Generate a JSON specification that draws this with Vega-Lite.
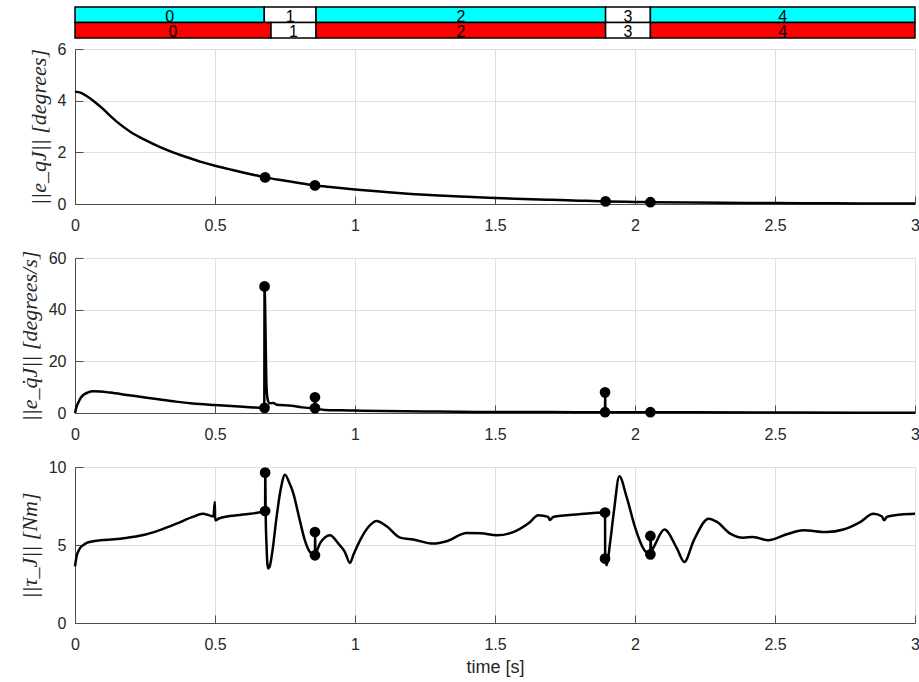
{
  "$schema": "https://vega.github.io/schema/vega-lite/v6.json",
  "padding": {"left": 18, "top": 6, "right": 2, "bottom": 2},
  "background": "white",
  "config": {
    "view": {"stroke": null},
    "axis": {"domainColor": "#4d4d4d", "domainWidth": 1, "tickColor": "#4d4d4d", "tickSize": -8, "tickWidth": 1, "gridColor": "#dfdfdf", "gridWidth": 1, "labelFont": "Liberation Sans", "labelFontSize": 16, "labelColor": "#262626", "titleColor": "#262626", "titleFontWeight": "normal", "labelFlush": false},
    "axisX": {"labelPadding": 21, "titleFont": "Liberation Sans", "titleFontSize": 18, "titlePadding": 6},
    "axisY": {"labelPadding": 17, "titleFont": "Liberation Serif", "titleFontStyle": "italic", "titleFontSize": 22, "titlePadding": 7}
  },
  "datasets": {
    "phases": [
      {"row": "top", "phase": "0", "active": true, "start": 0, "end": 0.676},
      {"row": "top", "phase": "1", "active": false, "start": 0.676, "end": 0.861},
      {"row": "top", "phase": "2", "active": true, "start": 0.861, "end": 1.895},
      {"row": "top", "phase": "3", "active": false, "start": 1.895, "end": 2.055},
      {"row": "top", "phase": "4", "active": true, "start": 2.055, "end": 3.0},
      {"row": "bottom", "phase": "0", "active": true, "start": 0, "end": 0.7},
      {"row": "bottom", "phase": "1", "active": false, "start": 0.7, "end": 0.861},
      {"row": "bottom", "phase": "2", "active": true, "start": 0.861, "end": 1.895},
      {"row": "bottom", "phase": "3", "active": false, "start": 1.895, "end": 2.055},
      {"row": "bottom", "phase": "4", "active": true, "start": 2.055, "end": 3.0}
    ],
    "q": [
      {"t": 0, "v": 4.35}, {"t": 0.02, "v": 4.31}, {"t": 0.04, "v": 4.19}, {"t": 0.065, "v": 4.0}, {"t": 0.1, "v": 3.68}, {"t": 0.125, "v": 3.42}, {"t": 0.15, "v": 3.18}, {"t": 0.2, "v": 2.78}, {"t": 0.25, "v": 2.48}, {"t": 0.3, "v": 2.22}, {"t": 0.35, "v": 2.0}, {"t": 0.4, "v": 1.81}, {"t": 0.45, "v": 1.63}, {"t": 0.5, "v": 1.48}, {"t": 0.55, "v": 1.35}, {"t": 0.6, "v": 1.22}, {"t": 0.65, "v": 1.1}, {"t": 0.679, "v": 1.03}, {"t": 0.75, "v": 0.9}, {"t": 0.8, "v": 0.81}, {"t": 0.857, "v": 0.72}, {"t": 0.9, "v": 0.67}, {"t": 1.0, "v": 0.56}, {"t": 1.1, "v": 0.47}, {"t": 1.2, "v": 0.39}, {"t": 1.3, "v": 0.33}, {"t": 1.4, "v": 0.28}, {"t": 1.5, "v": 0.23}, {"t": 1.6, "v": 0.19}, {"t": 1.7, "v": 0.16}, {"t": 1.8, "v": 0.13}, {"t": 1.895, "v": 0.1}, {"t": 2.0, "v": 0.08}, {"t": 2.055, "v": 0.07}, {"t": 2.2, "v": 0.055}, {"t": 2.4, "v": 0.04}, {"t": 2.6, "v": 0.03}, {"t": 2.8, "v": 0.02}, {"t": 3.0, "v": 0.015}
    ],
    "qEvents": [
      {"t": 0.679, "v": 1.03}, {"t": 0.857, "v": 0.72}, {"t": 1.895, "v": 0.1}, {"t": 2.055, "v": 0.07}
    ],
    "qd": [
      {"t": 0, "v": 0}, {"t": 0.005, "v": 2.2}, {"t": 0.012, "v": 4.1}, {"t": 0.02, "v": 5.8}, {"t": 0.03, "v": 7.0}, {"t": 0.045, "v": 7.9}, {"t": 0.065, "v": 8.4}, {"t": 0.09, "v": 8.3}, {"t": 0.125, "v": 7.9}, {"t": 0.185, "v": 7.0}, {"t": 0.25, "v": 6.0}, {"t": 0.304, "v": 5.2}, {"t": 0.36, "v": 4.4}, {"t": 0.42, "v": 3.7}, {"t": 0.5, "v": 3.1}, {"t": 0.6, "v": 2.45}, {"t": 0.676, "v": 2.0}, {"t": 0.677, "v": 49}, {"t": 0.68, "v": 35}, {"t": 0.682, "v": 20}, {"t": 0.684, "v": 10}, {"t": 0.687, "v": 6}, {"t": 0.69, "v": 4.5}, {"t": 0.696, "v": 3.75}, {"t": 0.708, "v": 3.9}, {"t": 0.72, "v": 3.2}, {"t": 0.774, "v": 2.8}, {"t": 0.81, "v": 2.2}, {"t": 0.845, "v": 1.9}, {"t": 0.857, "v": 1.9}, {"t": 0.8575, "v": 6.1}, {"t": 0.8585, "v": 1.9}, {"t": 0.893, "v": 1.2}, {"t": 0.95, "v": 1.05}, {"t": 1.0, "v": 0.95}, {"t": 1.1, "v": 0.8}, {"t": 1.25, "v": 0.6}, {"t": 1.37, "v": 0.45}, {"t": 1.5, "v": 0.4}, {"t": 1.7, "v": 0.35}, {"t": 1.893, "v": 0.3}, {"t": 1.8935, "v": 8.0}, {"t": 1.894, "v": 0.3}, {"t": 2.0, "v": 0.3}, {"t": 2.055, "v": 0.3}, {"t": 2.2, "v": 0.25}, {"t": 2.5, "v": 0.18}, {"t": 2.8, "v": 0.12}, {"t": 3.0, "v": 0.1}
    ],
    "qdEvents": [
      {"t": 0.677, "v": 2.0}, {"t": 0.677, "v": 49}, {"t": 0.857, "v": 1.9}, {"t": 0.857, "v": 6.1}, {"t": 1.893, "v": 0.3}, {"t": 1.893, "v": 8.0}, {"t": 2.055, "v": 0.3}
    ],
    "tau": [
      {"t": 0, "v": 3.63}, {"t": 0.003, "v": 4.0}, {"t": 0.006, "v": 4.3}, {"t": 0.012, "v": 4.6}, {"t": 0.018, "v": 4.8}, {"t": 0.03, "v": 5.0}, {"t": 0.042, "v": 5.13}, {"t": 0.06, "v": 5.22}, {"t": 0.09, "v": 5.3}, {"t": 0.14, "v": 5.37}, {"t": 0.18, "v": 5.45}, {"t": 0.24, "v": 5.62}, {"t": 0.3, "v": 5.94}, {"t": 0.36, "v": 6.35}, {"t": 0.42, "v": 6.8}, {"t": 0.456, "v": 7.0}, {"t": 0.48, "v": 6.9}, {"t": 0.494, "v": 6.82}, {"t": 0.4995, "v": 7.76}, {"t": 0.5005, "v": 6.58}, {"t": 0.514, "v": 6.7}, {"t": 0.6, "v": 6.95}, {"t": 0.679, "v": 7.18}, {"t": 0.6795, "v": 9.64}, {"t": 0.681, "v": 7.0}, {"t": 0.684, "v": 5.0}, {"t": 0.687, "v": 3.8}, {"t": 0.69, "v": 3.5}, {"t": 0.695, "v": 3.6}, {"t": 0.705, "v": 4.6}, {"t": 0.72, "v": 6.8}, {"t": 0.735, "v": 8.6}, {"t": 0.75, "v": 9.5}, {"t": 0.765, "v": 9.0}, {"t": 0.78, "v": 8.3}, {"t": 0.8, "v": 6.8}, {"t": 0.821, "v": 5.3}, {"t": 0.839, "v": 4.55}, {"t": 0.857, "v": 4.34}, {"t": 0.8575, "v": 5.83}, {"t": 0.8585, "v": 4.5}, {"t": 0.875, "v": 5.1}, {"t": 0.911, "v": 5.62}, {"t": 0.94, "v": 5.1}, {"t": 0.964, "v": 4.55}, {"t": 0.982, "v": 3.85}, {"t": 0.995, "v": 4.4}, {"t": 1.018, "v": 5.3}, {"t": 1.05, "v": 6.2}, {"t": 1.077, "v": 6.54}, {"t": 1.113, "v": 6.2}, {"t": 1.161, "v": 5.47}, {"t": 1.208, "v": 5.35}, {"t": 1.28, "v": 5.09}, {"t": 1.327, "v": 5.24}, {"t": 1.399, "v": 5.77}, {"t": 1.45, "v": 5.75}, {"t": 1.506, "v": 5.62}, {"t": 1.565, "v": 5.83}, {"t": 1.62, "v": 6.4}, {"t": 1.655, "v": 6.9}, {"t": 1.69, "v": 6.8}, {"t": 1.696, "v": 6.6}, {"t": 1.708, "v": 6.8}, {"t": 1.8, "v": 6.97}, {"t": 1.893, "v": 7.08}, {"t": 1.8935, "v": 4.13}, {"t": 1.899, "v": 3.7}, {"t": 1.91, "v": 5.0}, {"t": 1.925, "v": 7.2}, {"t": 1.944, "v": 9.4}, {"t": 1.97, "v": 8.08}, {"t": 2.0, "v": 6.15}, {"t": 2.03, "v": 4.77}, {"t": 2.055, "v": 4.4}, {"t": 2.0555, "v": 5.58}, {"t": 2.058, "v": 4.6}, {"t": 2.067, "v": 4.87}, {"t": 2.105, "v": 5.99}, {"t": 2.15, "v": 4.77}, {"t": 2.176, "v": 3.91}, {"t": 2.21, "v": 5.3}, {"t": 2.263, "v": 6.69}, {"t": 2.293, "v": 6.48}, {"t": 2.34, "v": 5.73}, {"t": 2.388, "v": 5.47}, {"t": 2.42, "v": 5.52}, {"t": 2.44, "v": 5.45}, {"t": 2.476, "v": 5.3}, {"t": 2.542, "v": 5.69}, {"t": 2.601, "v": 5.94}, {"t": 2.685, "v": 5.83}, {"t": 2.744, "v": 5.99}, {"t": 2.804, "v": 6.47}, {"t": 2.851, "v": 7.0}, {"t": 2.881, "v": 6.84}, {"t": 2.89, "v": 6.58}, {"t": 2.899, "v": 6.8}, {"t": 2.95, "v": 6.95}, {"t": 3.0, "v": 7.0}
    ],
    "tauEvents": [
      {"t": 0.679, "v": 7.18}, {"t": 0.679, "v": 9.64}, {"t": 0.857, "v": 4.34}, {"t": 0.857, "v": 5.83}, {"t": 1.893, "v": 7.08}, {"t": 1.893, "v": 4.13}, {"t": 2.055, "v": 4.4}, {"t": 2.055, "v": 5.58}
    ]
  },
  "bounds": "flush",
  "spacing": 11,
  "vconcat": [
    {
      "width": 840,
      "height": 31,
      "data": {"name": "phases"},
      "transform": [
        {"calculate": "(datum.start + datum.end) / 2", "as": "mid"},
        {"calculate": "datum.active ? datum.row : 'off'", "as": "fillKey"}
      ],
      "encoding": {
        "y": {"field": "row", "type": "nominal", "sort": ["top", "bottom"], "axis": null, "scale": {"paddingInner": 0, "paddingOuter": 0}}
      },
      "layer": [
        {
          "mark": {"type": "rect", "stroke": "black", "strokeWidth": 1.5},
          "encoding": {
            "x": {"field": "start", "type": "quantitative", "scale": {"domain": [0, 3], "nice": false}, "axis": null},
            "x2": {"field": "end"},
            "color": {"field": "fillKey", "type": "nominal", "scale": {"domain": ["top", "bottom", "off"], "range": ["#00ffff", "#ff0000", "#ffffff"]}, "legend": null}
          }
        },
        {
          "mark": {"type": "text", "fontSize": 16, "dy": 2, "font": "Liberation Sans", "color": "black"},
          "encoding": {
            "x": {"field": "mid", "type": "quantitative"},
            "text": {"field": "phase"}
          }
        }
      ]
    },
    {
      "bounds": "flush",
      "spacing": 54,
      "vconcat": [
        {
          "width": 840,
          "height": 155,
          "encoding": {
            "x": {"field": "t", "type": "quantitative", "scale": {"domain": [0, 3], "nice": false}, "axis": {"values": [0, 0.5, 1, 1.5, 2, 2.5, 3], "format": "~g", "title": null}},
            "y": {"field": "v", "type": "quantitative", "scale": {"domain": [0, 6], "nice": false}, "axis": {"values": [0, 2, 4, 6], "title": "||e_qJ|| [degrees]"}}
          },
          "layer": [
            {"data": {"name": "q"}, "mark": {"type": "line", "color": "black", "strokeWidth": 2.5, "interpolate": "monotone"}},
            {"data": {"name": "qEvents"}, "mark": {"type": "circle", "color": "black", "size": 115, "opacity": 1}}
          ]
        },
        {
          "width": 840,
          "height": 155,
          "encoding": {
            "x": {"field": "t", "type": "quantitative", "scale": {"domain": [0, 3], "nice": false}, "axis": {"values": [0, 0.5, 1, 1.5, 2, 2.5, 3], "format": "~g", "title": null}},
            "y": {"field": "v", "type": "quantitative", "scale": {"domain": [0, 60], "nice": false}, "axis": {"values": [0, 20, 40, 60], "title": "||e_q̇J|| [degrees/s]"}}
          },
          "layer": [
            {"data": {"name": "qd"}, "mark": {"type": "line", "color": "black", "strokeWidth": 2.5, "interpolate": "monotone"}},
            {"data": {"name": "qdEvents"}, "mark": {"type": "circle", "color": "black", "size": 115, "opacity": 1}}
          ]
        },
        {
          "width": 840,
          "height": 156,
          "encoding": {
            "x": {"field": "t", "type": "quantitative", "scale": {"domain": [0, 3], "nice": false}, "axis": {"values": [0, 0.5, 1, 1.5, 2, 2.5, 3], "format": "~g", "title": "time [s]"}},
            "y": {"field": "v", "type": "quantitative", "scale": {"domain": [0, 10], "nice": false}, "axis": {"values": [0, 5, 10], "title": "||τ_J|| [Nm]"}}
          },
          "layer": [
            {"data": {"name": "tau"}, "mark": {"type": "line", "color": "black", "strokeWidth": 2.5, "interpolate": "monotone"}},
            {"data": {"name": "tauEvents"}, "mark": {"type": "circle", "color": "black", "size": 115, "opacity": 1}}
          ]
        }
      ]
    }
  ]
}
